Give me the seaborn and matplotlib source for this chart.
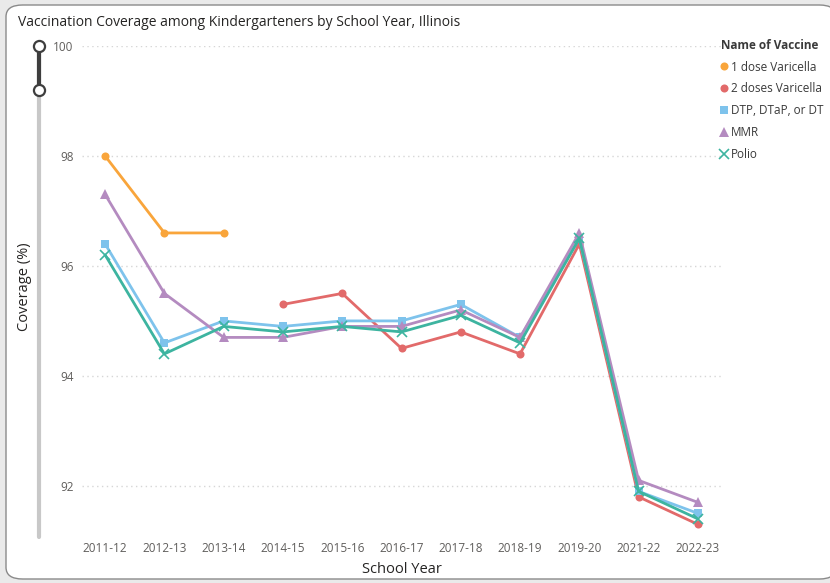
import matplotlib
matplotlib.use("Agg")
import matplotlib.pyplot as plt
from matplotlib.lines import Line2D
from matplotlib.patches import FancyBboxPatch
import seaborn as sns
import numpy as np

# Data
years = ["2011-12", "2012-13", "2013-14", "2014-15", "2015-16", "2016-17",
         "2017-18", "2018-19", "2019-20", "2021-22", "2022-23"]
nan = np.nan
varicella_1 = [98.0, 96.6, 96.6, nan, nan, nan, nan, nan, nan, nan, nan]
varicella_2 = [nan, nan, nan, 95.3, 95.5, 94.5, 94.8, 94.4, 96.4, 91.8, 91.3]
dtp = [96.4, 94.6, 95.0, 94.9, 95.0, 95.0, 95.3, 94.7, 96.5, 91.9, 91.5]
mmr = [97.3, 95.5, 94.7, 94.7, 94.9, 94.9, 95.2, 94.7, 96.6, 92.1, 91.7]
polio = [96.2, 94.4, 94.9, 94.8, 94.9, 94.8, 95.1, 94.6, 96.5, 91.9, 91.4]

series = {
    "1 dose Varicella": varicella_1,
    "2 doses Varicella": varicella_2,
    "DTP, DTaP, or DT": dtp,
    "MMR": mmr,
    "Polio": polio,
}
colors = {
    "1 dose Varicella": "#F9A53B",
    "2 doses Varicella": "#E26A6A",
    "DTP, DTaP, or DT": "#7EC3EC",
    "MMR": "#B48BC0",
    "Polio": "#3DB4A0",
}
markers = {
    "1 dose Varicella": "o",
    "2 doses Varicella": "o",
    "DTP, DTaP, or DT": "s",
    "MMR": "^",
    "Polio": "x",
}
msizes = {"o": 5.8, "s": 5.6, "^": 7, "x": 7}

sns.set_theme(style="white")
plt.rcParams['font.family'] = ['Open Sans', 'DejaVu Sans']

fig = plt.figure(figsize=(8.3, 5.83), dpi=100)
fig.patch.set_facecolor("#EAEAEA")
# card background
card = FancyBboxPatch((6 / 830, 4 / 583), 830 / 830, 574 / 583,
                      boxstyle="round,pad=0,rounding_size=0.02",
                      transform=fig.transFigure, facecolor="white",
                      edgecolor="#8A8A8A", linewidth=1.0, zorder=0)
fig.add_artist(card)

ax = fig.add_axes([82 / 830, 1 - 537 / 583, (721 - 82) / 830, (537 - 46) / 583])
ax.set_facecolor("none")

x = np.arange(len(years))
for name, vals in series.items():
    m = markers[name]
    sns.lineplot(x=x, y=vals, ax=ax, color=colors[name], linewidth=2.0,
                 marker=m, markersize=msizes[m],
                 markeredgewidth=1.2 if m == "x" else 0,
                 markeredgecolor=colors[name], errorbar=None, sort=False)

ax.set_xlim(-0.39, 10.39)
ax.set_ylim(91.07, 100)
ax.set_xticks(x)
ax.set_xticklabels(years)
ax.set_yticks([92, 94, 96, 98, 100])
ax.tick_params(axis="both", length=0, labelsize=8.5, colors="#605E5C")
ax.tick_params(axis="x", pad=3.5)
ax.tick_params(axis="y", pad=6)
ax.yaxis.grid(True, color="#D6D6D6", linestyle=(0, (1, 2.5)), linewidth=1)
ax.xaxis.grid(False)
for s in ax.spines.values():
    s.set_visible(False)
ax.set_xlabel("School Year", fontsize=10.5, color="#252423", labelpad=5)
ax.set_ylabel("")

fig.text(18 / 830, 1 - 23 / 583, "Vaccination Coverage among Kindergarteners by School Year, Illinois",
         fontsize=10, color="#252423", ha="left", va="center")
fig.text(25 / 830, 1 - 287 / 583, "Coverage (%)", fontsize=10.5, color="#252423",
         rotation=90, ha="center", va="center")

# zoom slider decoration on the left
sx = 39 / 830
fig.add_artist(Line2D([sx, sx], [1 - 46 / 583, 1 - 537 / 583], transform=fig.transFigure,
                      color="#C8C8C8", linewidth=3, solid_capstyle="round"))
fig.add_artist(Line2D([sx, sx], [1 - 46 / 583, 1 - 90 / 583], transform=fig.transFigure,
                      color="#3E3E3E", linewidth=3))
for yy in (46, 90):
    fig.add_artist(Line2D([sx], [1 - yy / 583], transform=fig.transFigure, marker="o",
                          markersize=8, markerfacecolor="white", markeredgecolor="#3E3E3E",
                          markeredgewidth=1.6))

handles = [Line2D([], [], linestyle="none", marker=markers[n], color=colors[n],
                  markersize=msizes[markers[n]],
                  markeredgewidth=1.2 if markers[n] == "x" else 0)
           for n in series]
leg = fig.legend(handles, list(series.keys()), loc="upper left",
                 bbox_to_anchor=(716 / 830, 1 - 34 / 583), frameon=False,
                 title="Name of Vaccine", fontsize=8.5, title_fontsize=8.5,
                 handlelength=0.6, handletextpad=0.3, labelspacing=0.75,
                 alignment="left", borderaxespad=0)
leg.get_title().set_fontweight("bold")
leg.get_title().set_color("#3A3A3A")
for t in leg.get_texts():
    t.set_color("#3A3A3A")

fig.savefig("out.png", dpi=100, facecolor=fig.get_facecolor())
